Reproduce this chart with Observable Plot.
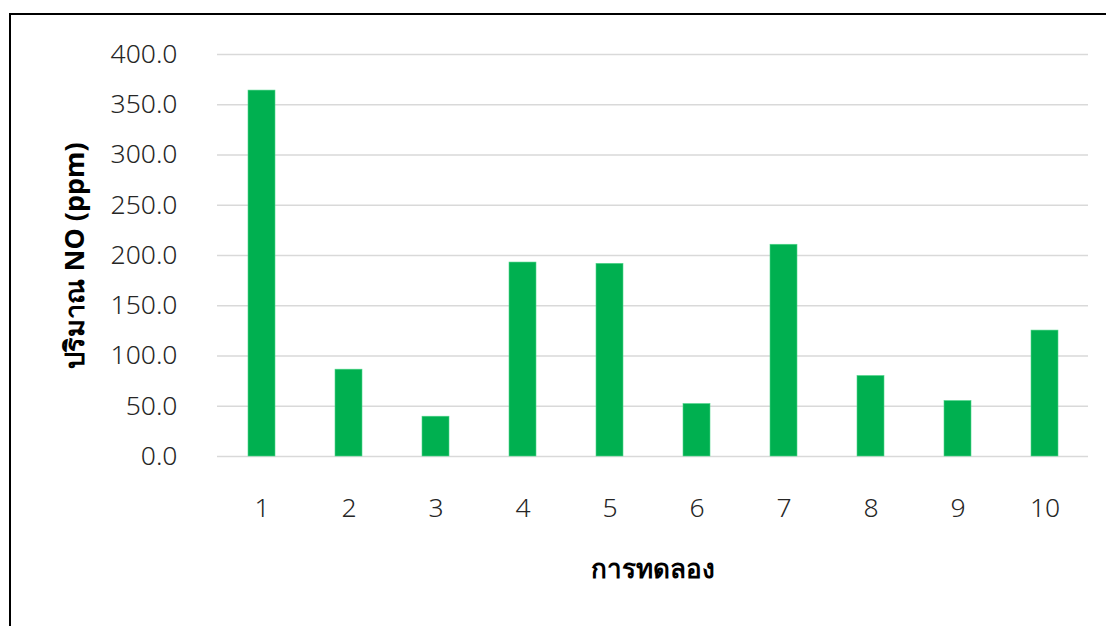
<!DOCTYPE html>
<html>
<head>
<meta charset="utf-8">
<script src="https://cdn.jsdelivr.net/npm/d3@7"></script>
<script src="https://cdn.jsdelivr.net/npm/@observablehq/plot@0.6"></script>
<style>
  html, body { margin: 0; padding: 0; background: #fff; }
  #wrap { position: relative; width: 1106px; height: 626px; overflow: hidden; }
  #frame { position: absolute; left: 9px; top: 13px; width: 1200px; height: 700px;
           border-top: 2px solid #000; border-left: 2px solid #000; pointer-events: none; }
  #chart { position: absolute; left: 0; top: 0; }
</style>
</head>
<body>
<div id="wrap"><div id="frame"></div><div id="chart"></div></div>
<script>
// Experiment runs and measured NO concentration (ppm)
const runs = ["1", "2", "3", "4", "5", "6", "7", "8", "9", "10"];
const noPpm = [364.1, 86.4, 39.6, 193.0, 191.7, 52.2, 210.7, 80.1, 55.2, 125.3];
const yTicks = [0, 50, 100, 150, 200, 250, 300, 350, 400];
const xTitle = "การทดลอง";
const yTitle = "ปริมาณ NO (ppm)";

const rows = runs.map((r, i) => ({run: r, value: noPpm[i]}));

const font = "'Noto Sans', 'DejaVu Sans', sans-serif";

const chart = Plot.plot({
  width: 1106,
  height: 626,
  marginLeft: 217,
  marginRight: 18,
  marginTop: 54,
  marginBottom: 170,
  style: {fontFamily: font, fontSize: "26.5px", color: "#262626", background: "transparent"},
  // bars centred in equal category slots, as in a spreadsheet column chart
  x: {domain: runs, paddingInner: 0.69, paddingOuter: 0.345, label: null},
  y: {domain: [0, 400], label: null},
  marks: [
    Plot.gridY(yTicks, {stroke: "#d9d9d9", strokeOpacity: 1, strokeWidth: 1.6}),
    Plot.axisY({ticks: yTicks, tickSize: 0, tickPadding: 40, tickFormat: d3.format(".1f"),
                label: null, fontWeight: 300}),
    Plot.axisX({tickSize: 0, tickPadding: 42, label: null, fontWeight: 300}),
    Plot.barY(rows, {x: "run", y: "value", fill: "#00b050", stroke: "#4fd68a", strokeWidth: 0.6}),
    Plot.text([yTitle], {frameAnchor: "left", textAnchor: "middle", rotate: -90, dx: -142,
                         fontSize: 27, fontWeight: "bold", fill: "#000"}),
    Plot.text([xTitle], {frameAnchor: "bottom", textAnchor: "middle", dy: 121, fontSize: 26,
                         fontWeight: "bold", fill: "#000"})
  ]
});

document.getElementById("chart").appendChild(chart);
</script>
</body>
</html>
